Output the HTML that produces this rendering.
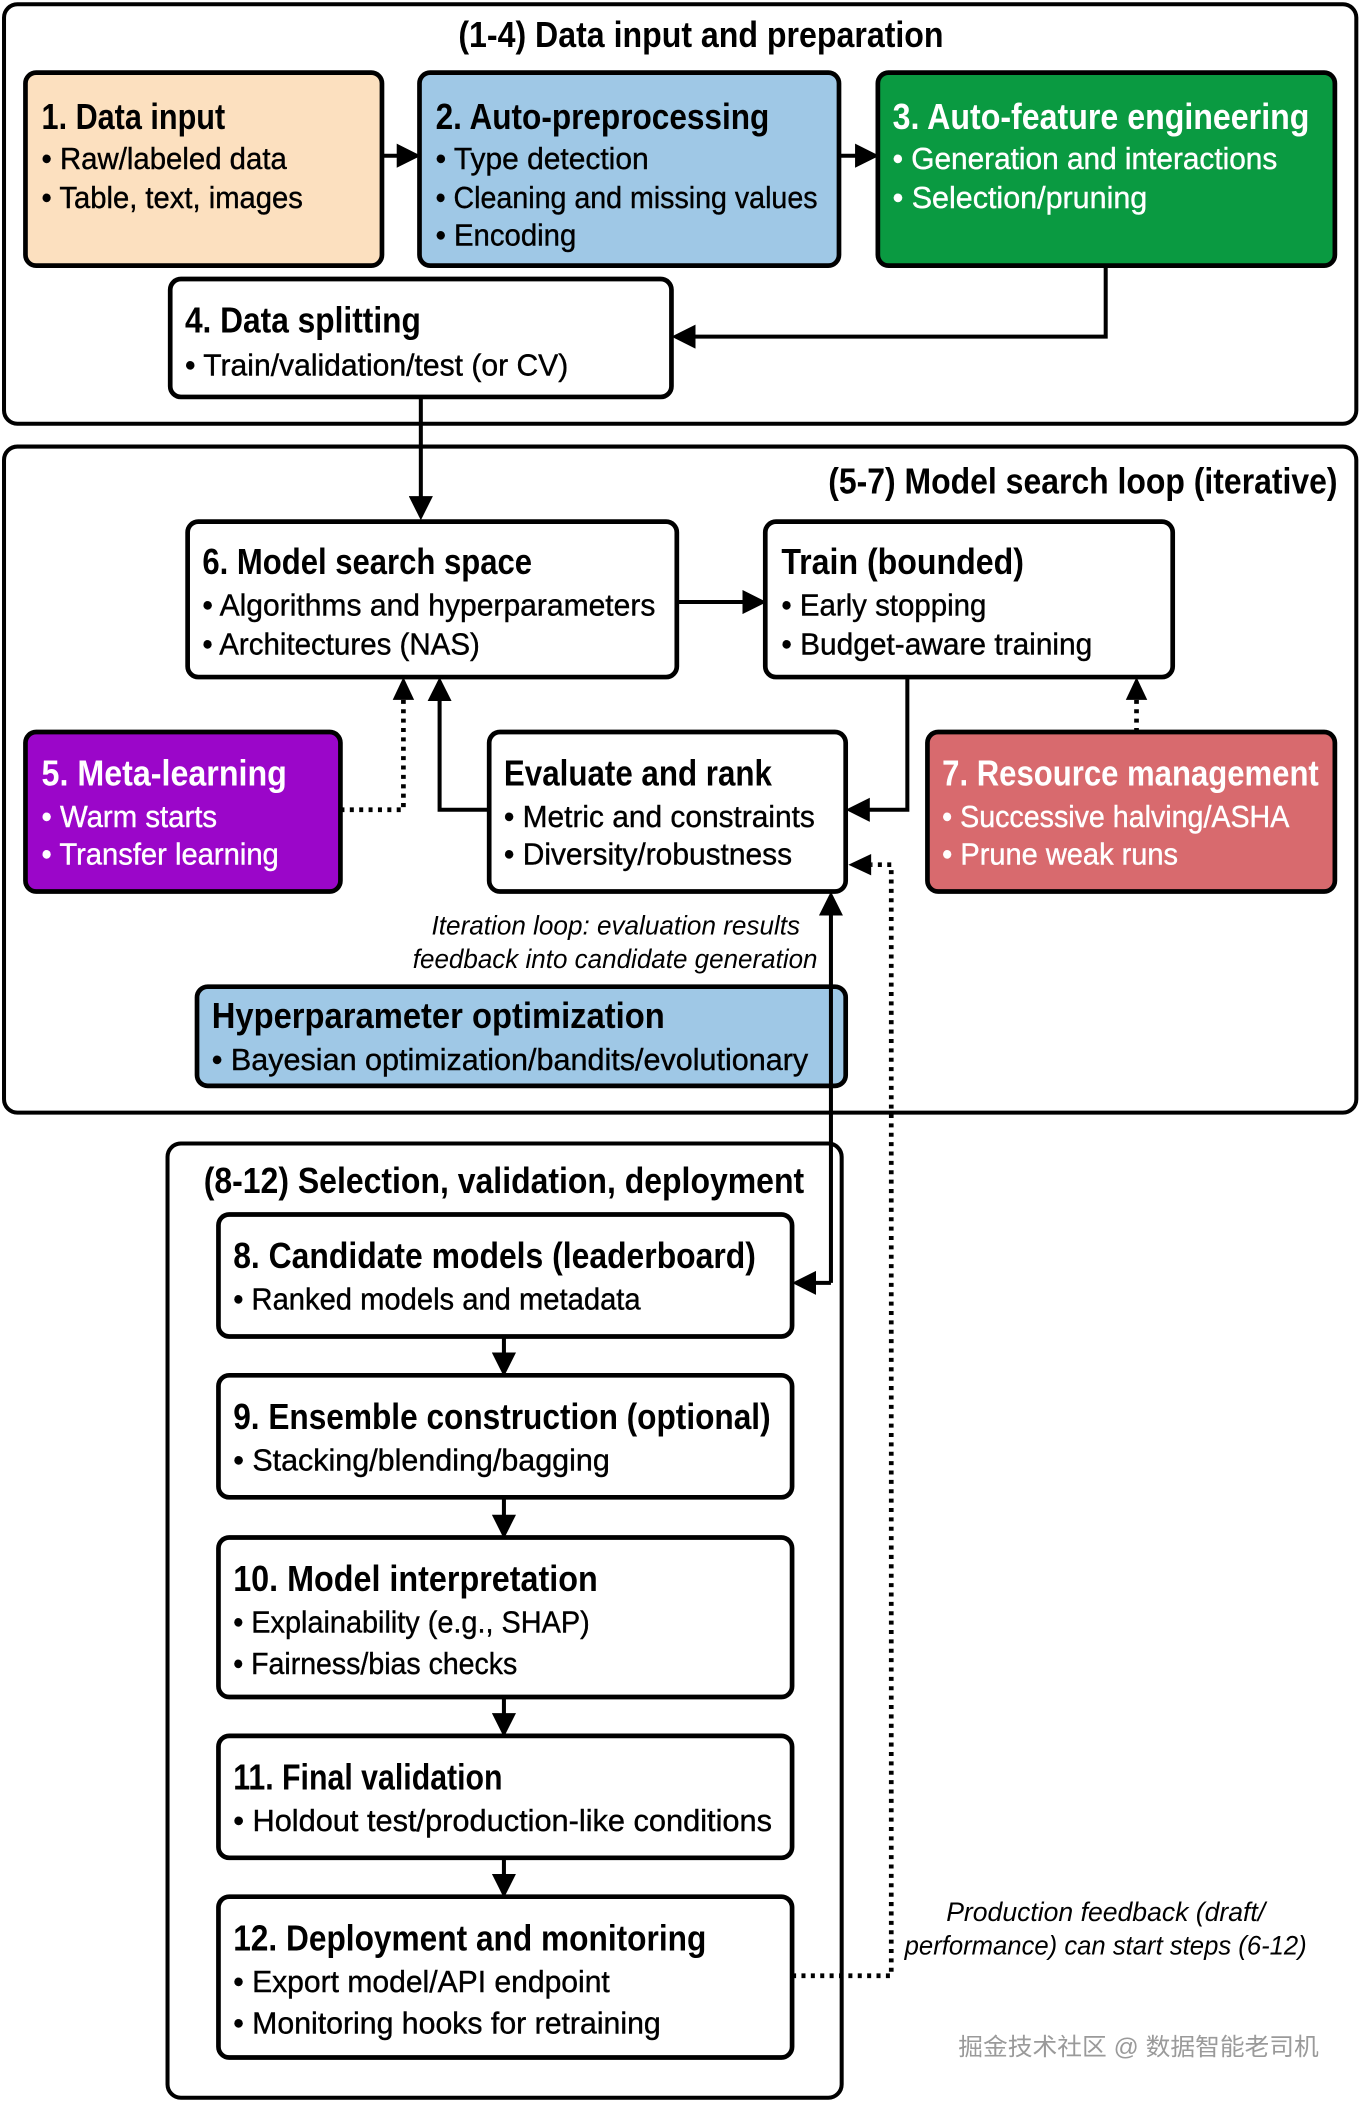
<!DOCTYPE html>
<html><head><meta charset="utf-8"><style>
html,body{margin:0;padding:0;background:#fff;}
svg{display:block;}
text{font-family:"Liberation Sans Narrow","Liberation Sans",sans-serif;}
.t{font-size:27px;font-weight:bold;}
.b{font-size:23px;stroke:currentColor;stroke-width:0.3;}
.i{font-size:20px;font-style:italic;}
.w{fill:#fff;color:#fff;}
</style></head><body>
<svg width="1359" height="2102" viewBox="0 0 1014 1568" xmlns="http://www.w3.org/2000/svg">
<defs>
<marker id="a" markerWidth="6" markerHeight="6" refX="5" refY="3" orient="auto" markerUnits="strokeWidth">
<path d="M0,0 L6,3 L0,6 z" fill="#000"/>
</marker>
</defs>
<g fill="none" stroke="#000" stroke-width="3">
<rect x="3" y="3" width="1009" height="313" rx="10"/>
<rect x="3" y="333" width="1009" height="497" rx="10"/>
<rect x="125" y="853" width="503" height="712" rx="10"/>
</g>
<g stroke="#000" stroke-width="3.5">
<rect x="19" y="54" width="266" height="144" rx="8" fill="#fce0bf"/>
<rect x="313" y="54" width="313" height="144" rx="8" fill="#9fc8e6"/>
<rect x="655" y="54" width="341" height="144" rx="8" fill="#0a9a41"/>
<rect x="127" y="208" width="374" height="88" rx="8" fill="#fff"/>
<rect x="140" y="389" width="365" height="116" rx="8" fill="#fff"/>
<rect x="571" y="389" width="304" height="116" rx="8" fill="#fff"/>
<rect x="19" y="546" width="235" height="119" rx="8" fill="#9b06c9"/>
<rect x="365" y="546" width="266" height="119" rx="8" fill="#fff"/>
<rect x="692" y="546" width="304" height="119" rx="8" fill="#d86a6e"/>
<rect x="147" y="736" width="484" height="74" rx="8" fill="#9fc8e6"/>
<rect x="163" y="906" width="428" height="91" rx="8" fill="#fff"/>
<rect x="163" y="1026" width="428" height="91" rx="8" fill="#fff"/>
<rect x="163" y="1147" width="428" height="119" rx="8" fill="#fff"/>
<rect x="163" y="1295" width="428" height="91" rx="8" fill="#fff"/>
<rect x="163" y="1415" width="428" height="120" rx="8" fill="#fff"/>
</g>
<g fill="none" stroke="#000" stroke-width="3" marker-end="url(#a)">
<line x1="285" y1="116" x2="311" y2="116"/>
<line x1="626" y1="116" x2="653" y2="116"/>
<polyline points="825,198 825,251 504,251"/>
<line x1="314" y1="296" x2="314" y2="385"/>
<line x1="505" y1="449" x2="569" y2="449"/>
<polyline points="677,505 677,604 634,604"/>
<polyline points="365,604 328,604 328,508"/>
<polyline points="620,957 620,668"/>
<line x1="620" y1="957" x2="594" y2="957"/>
<line x1="376" y1="997" x2="376" y2="1024"/>
<line x1="376" y1="1117" x2="376" y2="1145"/>
<line x1="376" y1="1266" x2="376" y2="1293"/>
<line x1="376" y1="1386" x2="376" y2="1413"/>
</g>
<g fill="none" stroke="#000" stroke-width="3.5" stroke-dasharray="3,4" stroke-linecap="butt">
<polyline points="254,604 301,604 301,520"/>
<line x1="848" y1="546" x2="848" y2="522"/>
<polyline points="591,1474 665,1474 665,645 650,645"/>
</g>
<g fill="#000">
<path d="M301,505 L293,522 L309,522 z"/>
<path d="M848,505 L840,522 L856,522 z"/>
<path d="M633,645 L650,637 L650,653 z"/>
</g>
<text class="t" x="342" y="35" textLength="362" lengthAdjust="spacingAndGlyphs">(1-4) Data input and preparation</text>
<text class="t" x="31" y="96" textLength="137" lengthAdjust="spacingAndGlyphs">1. Data input</text>
<text class="b" x="31" y="126" textLength="183" lengthAdjust="spacingAndGlyphs">• Raw/labeled data</text>
<text class="b" x="31" y="155" textLength="195" lengthAdjust="spacingAndGlyphs">• Table, text, images</text>
<text class="t" x="325" y="96" textLength="249" lengthAdjust="spacingAndGlyphs">2. Auto-preprocessing</text>
<text class="b" x="325" y="126" textLength="159" lengthAdjust="spacingAndGlyphs">• Type detection</text>
<text class="b" x="325" y="155" textLength="285" lengthAdjust="spacingAndGlyphs">• Cleaning and missing values</text>
<text class="b" x="325" y="183" textLength="105" lengthAdjust="spacingAndGlyphs">• Encoding</text>
<text class="t w" x="666" y="96" textLength="311" lengthAdjust="spacingAndGlyphs">3. Auto-feature engineering</text>
<text class="b w" x="666" y="126" textLength="287" lengthAdjust="spacingAndGlyphs">• Generation and interactions</text>
<text class="b w" x="666" y="155" textLength="190" lengthAdjust="spacingAndGlyphs">• Selection/pruning</text>
<text class="t" x="138" y="248" textLength="176" lengthAdjust="spacingAndGlyphs">4. Data splitting</text>
<text class="b" x="138" y="280" textLength="286" lengthAdjust="spacingAndGlyphs">• Train/validation/test (or CV)</text>
<text class="t" x="618" y="368" textLength="380" lengthAdjust="spacingAndGlyphs">(5-7) Model search loop (iterative)</text>
<text class="t" x="151" y="428" textLength="246" lengthAdjust="spacingAndGlyphs">6. Model search space</text>
<text class="b" x="151" y="459" textLength="338" lengthAdjust="spacingAndGlyphs">• Algorithms and hyperparameters</text>
<text class="b" x="151" y="488" textLength="207" lengthAdjust="spacingAndGlyphs">• Architectures (NAS)</text>
<text class="t" x="583" y="428" textLength="181" lengthAdjust="spacingAndGlyphs">Train (bounded)</text>
<text class="b" x="583" y="459" textLength="153" lengthAdjust="spacingAndGlyphs">• Early stopping</text>
<text class="b" x="583" y="488" textLength="232" lengthAdjust="spacingAndGlyphs">• Budget-aware training</text>
<text class="t w" x="31" y="586" textLength="183" lengthAdjust="spacingAndGlyphs">5. Meta-learning</text>
<text class="b w" x="31" y="617" textLength="131" lengthAdjust="spacingAndGlyphs">• Warm starts</text>
<text class="b w" x="31" y="645" textLength="177" lengthAdjust="spacingAndGlyphs">• Transfer learning</text>
<text class="t" x="376" y="586" textLength="200" lengthAdjust="spacingAndGlyphs">Evaluate and rank</text>
<text class="b" x="376" y="617" textLength="232" lengthAdjust="spacingAndGlyphs">• Metric and constraints</text>
<text class="b" x="376" y="645" textLength="215" lengthAdjust="spacingAndGlyphs">• Diversity/robustness</text>
<text class="t w" x="703" y="586" textLength="281" lengthAdjust="spacingAndGlyphs">7. Resource management</text>
<text class="b w" x="703" y="617" textLength="259" lengthAdjust="spacingAndGlyphs">• Successive halving/ASHA</text>
<text class="b w" x="703" y="645" textLength="176" lengthAdjust="spacingAndGlyphs">• Prune weak runs</text>
<text class="i" x="597" y="697" text-anchor="end" textLength="275" lengthAdjust="spacingAndGlyphs">Iteration loop: evaluation results</text>
<text class="i" x="610" y="722" text-anchor="end" textLength="302" lengthAdjust="spacingAndGlyphs">feedback into candidate generation</text>
<text class="t" x="158" y="767" textLength="338" lengthAdjust="spacingAndGlyphs">Hyperparameter optimization</text>
<text class="b" x="158" y="798" textLength="445" lengthAdjust="spacingAndGlyphs">• Bayesian optimization/bandits/evolutionary</text>
<text class="t" x="152" y="890" textLength="448" lengthAdjust="spacingAndGlyphs">(8-12) Selection, validation, deployment</text>
<text class="t" x="174" y="946" textLength="390" lengthAdjust="spacingAndGlyphs">8. Candidate models (leaderboard)</text>
<text class="b" x="174" y="977" textLength="304" lengthAdjust="spacingAndGlyphs">• Ranked models and metadata</text>
<text class="t" x="174" y="1066" textLength="401" lengthAdjust="spacingAndGlyphs">9. Ensemble construction (optional)</text>
<text class="b" x="174" y="1097" textLength="281" lengthAdjust="spacingAndGlyphs">• Stacking/blending/bagging</text>
<text class="t" x="174" y="1187" textLength="272" lengthAdjust="spacingAndGlyphs">10. Model interpretation</text>
<text class="b" x="174" y="1218" textLength="266" lengthAdjust="spacingAndGlyphs">• Explainability (e.g., SHAP)</text>
<text class="b" x="174" y="1249" textLength="212" lengthAdjust="spacingAndGlyphs">• Fairness/bias checks</text>
<text class="t" x="174" y="1335" textLength="201" lengthAdjust="spacingAndGlyphs">11. Final validation</text>
<text class="b" x="174" y="1366" textLength="402" lengthAdjust="spacingAndGlyphs">• Holdout test/production-like conditions</text>
<text class="t" x="174" y="1455" textLength="353" lengthAdjust="spacingAndGlyphs">12. Deployment and monitoring</text>
<text class="b" x="174" y="1486" textLength="281" lengthAdjust="spacingAndGlyphs">• Export model/API endpoint</text>
<text class="b" x="174" y="1517" textLength="319" lengthAdjust="spacingAndGlyphs">• Monitoring hooks for retraining</text>
<text class="i" x="706" y="1433" textLength="238" lengthAdjust="spacingAndGlyphs">Production feedback (draft/</text>
<text class="i" x="675" y="1458" textLength="300" lengthAdjust="spacingAndGlyphs">performance) can start steps (6-12)</text>
<text x="715" y="1533" fill="#9a9a9a" style="font-family:'Liberation Sans','Noto Sans CJK SC',sans-serif;font-size:18px" textLength="269" lengthAdjust="spacingAndGlyphs">掘金技术社区 @ 数据智能老司机</text>
</svg>
</body></html>
